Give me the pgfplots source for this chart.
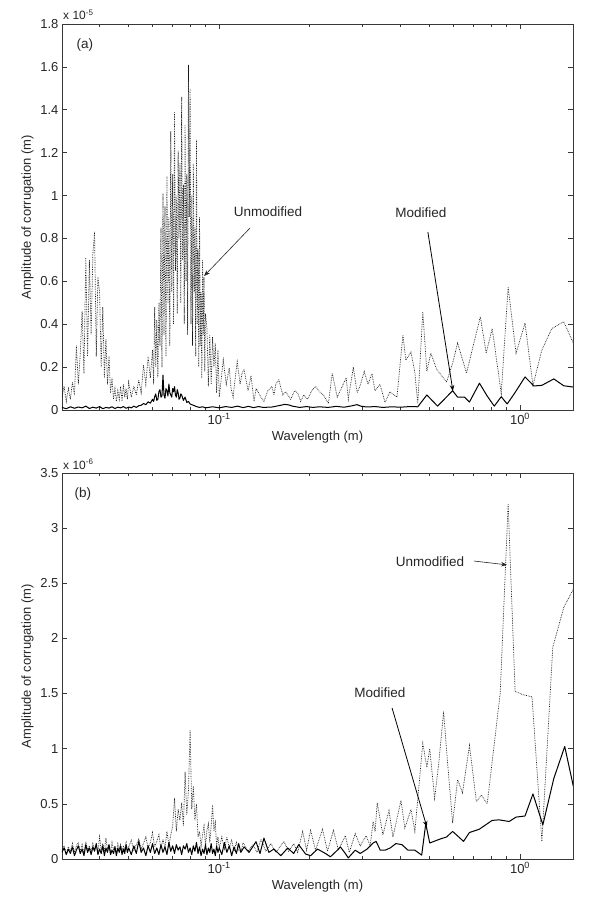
\documentclass[border=0pt]{standalone}
\usepackage{fontspec}
\setmainfont{Liberation Sans}
\usepackage{pgfplots}
\pgfplotsset{compat=1.18}
\usetikzlibrary{arrows.meta}
\definecolor{axgray}{gray}{0.22}
\pgfplotsset{
  mystyle/.style={
    scale only axis, width=511pt, height=386pt,
    xmin=0.03, xmax=1.5, ymin=0,
    xtick={0.1,1}, xticklabels={10\textsuperscript{-1},10\textsuperscript{0}},
    minor xtick={0.04,0.05,0.06,0.07,0.08,0.09,0.2,0.3,0.4,0.5,0.6,0.7,0.8,0.9},
    tick align=inside, major tick length=5pt, minor tick length=3pt,
    axis line style={axgray, line width=0.8pt},
    every tick/.style={axgray, line width=0.6pt},
    tick label style={font=\fontsize{13}{15}\selectfont, text=black!85},
    label style={font=\fontsize{13}{15}\selectfont, text=black!85},
    xlabel={Wavelength (m)}, ylabel={Amplitude of corrugation (m)},
  },
  unmod/.style={densely dotted, black!90, line width=0.7pt},
  mod/.style={black, line width=1.0pt, line join=round},
}
\newcommand{\annfont}{\fontsize{13.5}{15}\selectfont}
\begin{document}
\begin{tikzpicture}
\path[use as bounding box] (0,0) rectangle (592pt,906pt);
% ---------------- panel (a)
\begin{semilogxaxis}[mystyle, /pgf/number format/assume math mode=true, name=ta, at={(62pt,496pt)}, anchor=south west, ymax=1.8,
  ytick={0,0.2,0.4,0.6,0.8,1,1.2,1.4,1.6,1.8}]
\addplot[unmod] coordinates {
(0.0300,0.06)(0.0305,0.11)(0.0310,0.04)(0.0315,0.10)(0.0320,0.05)(0.0325,0.13)(0.0330,0.07)(0.0335,0.30)(0.0340,0.12)(0.0345,0.26)
(0.0350,0.46)(0.0355,0.17)(0.0360,0.71)(0.0365,0.25)(0.0370,0.70)(0.0375,0.35)(0.0380,0.73)(0.0385,0.83)(0.0390,0.25)(0.0395,0.62)
(0.0400,0.55)(0.0405,0.20)(0.0410,0.48)(0.0415,0.15)(0.0420,0.33)(0.0425,0.12)(0.0430,0.25)(0.0435,0.08)(0.0440,0.15)(0.0445,0.05)
(0.0450,0.10)(0.0455,0.04)(0.0460,0.09)(0.0465,0.05)(0.0470,0.11)(0.0475,0.04)(0.0480,0.12)(0.0485,0.06)(0.0490,0.10)(0.0495,0.05)
(0.0500,0.13)(0.051,0.06)(0.052,0.11)(0.053,0.07)(0.054,0.14)(0.055,0.08)(0.056,0.21)(0.057,0.12)(0.058,0.25)(0.059,0.15)
(0.0600,0.28)(0.0605,0.12)(0.0610,0.48)(0.0615,0.20)(0.0620,0.42)(0.0625,0.15)(0.0630,0.50)(0.0635,0.30)(0.0640,0.85)(0.0645,0.20)
(0.0650,1.01)(0.0655,0.35)(0.0660,0.95)(0.0665,0.25)(0.0670,1.09)(0.0675,0.50)(0.0680,0.90)(0.0685,0.30)(0.0690,1.30)(0.0695,0.55)
(0.0700,1.10)(0.0705,0.40)(0.0710,1.39)(0.0715,0.65)(0.0720,1.00)(0.0725,0.45)(0.0730,1.21)(0.0735,0.80)(0.0740,1.15)(0.0745,0.50)
(0.0750,1.46)(0.0755,0.70)(0.0760,1.05)(0.0765,0.40)(0.0770,1.33)(0.0775,0.60)(0.0780,1.10)(0.0785,0.35)(0.0790,1.61)(0.0795,0.90)
(0.0800,1.50)(0.0805,0.40)(0.0810,1.00)(0.0815,0.30)(0.0820,1.15)(0.0825,0.55)(0.0830,0.85)(0.0835,0.25)(0.0840,1.26)(0.0845,0.40)
(0.0850,0.75)(0.0855,0.20)(0.0860,0.90)(0.0865,0.30)(0.0870,0.55)(0.0875,0.15)(0.0880,0.70)(0.0885,0.35)(0.0890,0.62)(0.0895,0.18)
(0.0900,0.45)(0.091,0.38)(0.092,0.11)(0.093,0.35)(0.094,0.12)(0.095,0.34)(0.096,0.20)(0.097,0.31)(0.098,0.08)(0.099,0.28)(0.100,0.06)
(0.1031,0.233)(0.1055,0.12)(0.1079,0.195)(0.1095,0.10)(0.1112,0.06)(0.1130,0.15)(0.1147,0.225)(0.1173,0.12)(0.1190,0.17)(0.1209,0.19)
(0.1247,0.09)(0.1275,0.16)(0.1305,0.04)(0.1325,0.10)(0.1345,0.085)(0.1376,0.06)(0.1408,0.04)(0.1450,0.09)(0.1496,0.11)(0.1520,0.07)
(0.1542,0.12)(0.1578,0.14)(0.1627,0.07)(0.1664,0.085)(0.1728,0.05)(0.1780,0.09)(0.1823,0.08)(0.1865,0.04)(0.1909,0.07)(0.1967,0.05)
(0.2030,0.09)(0.2091,0.11)(0.2154,0.085)(0.2220,0.07)(0.2306,0.03)(0.2375,0.172)(0.2467,0.06)(0.2564,0.11)(0.2642,0.15)(0.2686,0.05)
(0.2790,0.20)(0.2876,0.08)(0.2950,0.12)(0.3033,0.18)(0.3124,0.12)(0.3220,0.17)(0.3294,0.09)(0.3423,0.12)(0.3557,0.035)(0.3697,0.085)
(0.3898,0.06)(0.408,0.35)(0.417,0.233)(0.434,0.27)(0.447,0.175)(0.457,0.03)(0.475,0.458)(0.490,0.18)(0.505,0.265)(0.528,0.19)
(0.570,0.13)(0.597,0.218)(0.620,0.312)(0.664,0.172)(0.738,0.435)(0.772,0.265)(0.808,0.38)(0.866,0.078)(0.913,0.574)(0.970,0.265)
(1.039,0.405)(1.104,0.115)(1.182,0.28)(1.276,0.38)(1.397,0.412)(1.540,0.28)
};
\addplot[mod] coordinates {
(0.0300,0.012)(0.0310,0.006)(0.0320,0.015)(0.0330,0.008)(0.0340,0.014)(0.0350,0.010)(0.0360,0.018)(0.0370,0.007)(0.0380,0.013)(0.0390,0.009)
(0.0400,0.016)(0.0410,0.006)(0.0420,0.012)(0.0430,0.009)(0.0440,0.015)(0.0450,0.007)(0.0460,0.013)(0.0470,0.010)(0.0480,0.016)(0.0490,0.008)
(0.0500,0.014)(0.0510,0.010)(0.0520,0.018)(0.0530,0.012)(0.0540,0.020)(0.0550,0.022)(0.0560,0.030)(0.0570,0.025)(0.0580,0.038)(0.0590,0.032)
(0.0600,0.050)(0.0605,0.040)(0.0610,0.062)(0.0615,0.075)(0.0620,0.045)(0.0625,0.050)(0.0630,0.085)(0.0635,0.095)(0.0640,0.060)(0.0645,0.065)
(0.0650,0.163)(0.0655,0.070)(0.0660,0.055)(0.0665,0.100)(0.0670,0.090)(0.0675,0.065)(0.0680,0.121)(0.0685,0.080)(0.0690,0.070)(0.0695,0.060)
(0.0700,0.100)(0.0705,0.085)(0.0710,0.109)(0.0715,0.070)(0.0720,0.060)(0.0725,0.095)(0.0730,0.080)(0.0735,0.050)(0.0740,0.055)(0.0745,0.075)
(0.0750,0.070)(0.0760,0.045)(0.0770,0.060)(0.0780,0.035)(0.0790,0.040)(0.0800,0.028)(0.0820,0.022)(0.0840,0.016)(0.0860,0.012)(0.0880,0.015)
(0.0900,0.010)(0.095,0.015)(0.100,0.010)(0.105,0.016)(0.110,0.012)(0.115,0.018)(0.120,0.011)(0.125,0.017)(0.130,0.011)(0.135,0.016)
(0.140,0.012)(0.150,0.014)(0.160,0.022)(0.165,0.026)(0.170,0.024)(0.175,0.018)(0.185,0.012)(0.195,0.016)(0.205,0.012)(0.215,0.015)
(0.230,0.012)(0.245,0.017)(0.260,0.013)(0.275,0.019)(0.287,0.025)(0.297,0.017)(0.310,0.014)(0.330,0.016)(0.350,0.012)(0.375,0.015)
(0.400,0.013)(0.430,0.016)(0.457,0.015)(0.490,0.070)(0.532,0.018)(0.597,0.090)(0.620,0.060)(0.654,0.060)(0.679,0.037)(0.733,0.125)
(0.778,0.065)(0.821,0.018)(0.866,0.062)(0.906,0.028)(0.956,0.075)(1.039,0.154)(1.112,0.112)(1.182,0.115)(1.295,0.145)(1.397,0.113)(1.540,0.105)
};
\node[font=\annfont, text=black!85] at (rel axis cs:0.045,0.946) {(a)};
\node[font=\annfont, text=black!85] at (rel axis cs:0.403,0.513) {Unmodified};
\draw[-{Stealth[length=6pt,width=4.5pt]}, line width=0.6pt, black!85] (rel axis cs:0.368,0.4715) -- (rel axis cs:0.278,0.347);
\node[font=\annfont, text=black!85] at (rel axis cs:0.7025,0.510) {Modified};
\draw[-{Stealth[length=6pt,width=4.5pt]}, line width=0.8pt, black] (rel axis cs:0.716,0.461) -- (rel axis cs:0.765,0.049);
\end{semilogxaxis}
\node[anchor=base west, inner sep=0pt, font=\fontsize{12}{14}\selectfont, text=black!85] at ([xshift=1pt,yshift=4pt]ta.north west) {x 10\textsuperscript{-5}};
% ---------------- panel (b)
\begin{semilogxaxis}[mystyle, /pgf/number format/assume math mode=true, name=ba, at={(62pt,47pt)}, anchor=south west, ymax=3.5,
  ytick={0,0.5,1,1.5,2,2.5,3,3.5}]
\addplot[unmod] coordinates {
(0.0300,0.08)(0.0305,0.12)(0.0310,0.05)(0.0315,0.11)(0.0320,0.07)(0.0325,0.14)(0.0330,0.06)(0.0335,0.12)(0.0340,0.15)(0.0345,0.07)
(0.0350,0.13)(0.0355,0.05)(0.0360,0.16)(0.0365,0.08)(0.0370,0.12)(0.0375,0.06)(0.0380,0.14)(0.0385,0.09)(0.0390,0.13)(0.0395,0.06)
(0.0400,0.20)(0.0405,0.08)(0.0410,0.14)(0.0415,0.07)(0.0420,0.19)(0.0425,0.09)(0.0430,0.13)(0.0435,0.06)(0.0440,0.15)(0.0445,0.08)
(0.0450,0.12)(0.0455,0.05)(0.0460,0.14)(0.0465,0.09)(0.0470,0.13)(0.0475,0.06)(0.0480,0.12)(0.0485,0.08)(0.0490,0.15)(0.0495,0.07)
(0.0500,0.11)(0.051,0.17)(0.052,0.08)(0.053,0.13)(0.054,0.18)(0.055,0.09)(0.056,0.14)(0.057,0.20)(0.058,0.10)(0.059,0.15)
(0.060,0.24)(0.061,0.11)(0.062,0.16)(0.063,0.22)(0.064,0.09)(0.065,0.18)(0.066,0.10)(0.067,0.25)(0.068,0.12)(0.069,0.22)
(0.070,0.30)(0.071,0.55)(0.072,0.25)(0.073,0.45)(0.074,0.35)(0.075,0.51)(0.076,0.30)(0.077,0.79)(0.078,0.40)(0.079,0.62)
(0.080,1.17)(0.081,0.45)(0.082,0.66)(0.083,0.35)(0.084,0.50)(0.085,0.20)(0.086,0.25)(0.087,0.12)(0.088,0.22)(0.089,0.30)
(0.090,0.12)(0.091,0.26)(0.092,0.32)(0.093,0.15)(0.094,0.30)(0.095,0.49)(0.096,0.25)(0.097,0.33)(0.098,0.12)(0.099,0.20)
(0.100,0.10)(0.102,0.20)(0.104,0.09)(0.106,0.20)(0.108,0.10)(0.110,0.17)(0.112,0.07)(0.114,0.15)(0.116,0.08)(0.118,0.06)
(0.1200,0.15)(0.1246,0.07)(0.1295,0.13)(0.1335,0.06)(0.1376,0.18)(0.1429,0.07)(0.1484,0.14)(0.1542,0.06)(0.1639,0.16)(0.1702,0.07)
(0.1768,0.14)(0.1823,0.06)(0.1894,0.25)(0.1952,0.08)(0.2012,0.26)(0.2090,0.08)(0.2204,0.27)(0.2290,0.07)(0.2396,0.26)(0.2489,0.08)
(0.2625,0.21)(0.2706,0.06)(0.2832,0.23)(0.2942,0.12)(0.3079,0.21)(0.3175,0.12)(0.3248,0.34)(0.3298,0.25)(0.335,0.51)(0.350,0.22)
(0.3667,0.44)(0.3780,0.20)(0.4018,0.53)(0.414,0.28)(0.434,0.45)(0.447,0.25)(0.475,1.05)(0.490,0.83)(0.501,1.00)(0.520,0.55)
(0.536,0.85)(0.557,1.335)(0.574,0.88)(0.597,0.326)(0.620,0.72)(0.644,0.60)(0.679,1.03)(0.716,0.52)(0.744,0.58)(0.778,0.50)
(0.859,1.50)(0.913,3.22)(0.963,1.52)(1.023,1.49)(1.096,1.47)(1.182,0.16)(1.285,1.92)(1.397,2.28)(1.540,2.50)
};
\addplot[mod] coordinates {
(0.0300,0.06)(0.0305,0.10)(0.0310,0.04)(0.0315,0.09)(0.0320,0.05)(0.0325,0.11)(0.0330,0.03)(0.0335,0.08)(0.0340,0.12)(0.0345,0.05)
(0.0350,0.09)(0.0355,0.03)(0.0360,0.13)(0.0365,0.06)(0.0370,0.10)(0.0375,0.04)(0.0380,0.11)(0.0385,0.07)(0.0390,0.14)(0.0395,0.04)
(0.0400,0.09)(0.0405,0.05)(0.0410,0.12)(0.0415,0.03)(0.0420,0.10)(0.0425,0.06)(0.0430,0.13)(0.0435,0.04)(0.0440,0.08)(0.0445,0.05)
(0.0450,0.11)(0.0455,0.03)(0.0460,0.10)(0.0465,0.06)(0.0470,0.12)(0.0475,0.04)(0.0480,0.09)(0.0485,0.05)(0.0490,0.13)(0.0495,0.06)
(0.0500,0.10)(0.051,0.04)(0.052,0.12)(0.053,0.05)(0.054,0.16)(0.055,0.06)(0.056,0.10)(0.057,0.03)(0.058,0.12)(0.059,0.06)
(0.060,0.14)(0.061,0.05)(0.062,0.10)(0.063,0.04)(0.064,0.13)(0.065,0.06)(0.066,0.11)(0.067,0.04)(0.068,0.15)(0.069,0.07)
(0.070,0.12)(0.071,0.05)(0.072,0.13)(0.073,0.08)(0.074,0.11)(0.075,0.04)(0.076,0.12)(0.077,0.09)(0.078,0.14)(0.079,0.06)
(0.080,0.10)(0.081,0.04)(0.082,0.12)(0.083,0.07)(0.084,0.15)(0.085,0.05)(0.086,0.11)(0.087,0.03)(0.088,0.09)(0.089,0.05)
(0.090,0.13)(0.091,0.04)(0.092,0.10)(0.093,0.06)(0.094,0.14)(0.095,0.05)(0.096,0.09)(0.097,0.03)(0.098,0.12)(0.099,0.06)
(0.100,0.10)(0.102,0.04)(0.104,0.15)(0.106,0.06)(0.108,0.12)(0.110,0.03)(0.112,0.11)(0.114,0.05)(0.116,0.14)(0.118,0.06)
(0.1209,0.11)(0.1256,0.06)(0.1325,0.157)(0.1366,0.05)(0.1408,0.19)(0.1462,0.06)(0.1519,0.09)(0.1602,0.03)(0.1689,0.10)(0.1768,0.05)
(0.1837,0.13)(0.1937,0.045)(0.2012,0.03)(0.2122,0.09)(0.2255,0.05)(0.2342,0.02)(0.2470,0.08)(0.2527,0.11)(0.2625,0.05)(0.2685,0.01)
(0.2832,0.08)(0.2942,0.05)(0.3102,0.09)(0.3248,0.145)(0.3323,0.16)(0.343,0.08)(0.356,0.08)(0.370,0.10)(0.3867,0.14)(0.405,0.13)
(0.424,0.08)(0.447,0.08)(0.471,0.035)(0.4859,0.32)(0.501,0.145)(0.541,0.18)(0.570,0.20)(0.597,0.25)(0.649,0.16)(0.679,0.24)
(0.732,0.27)(0.808,0.35)(0.852,0.355)(0.920,0.34)(0.970,0.38)(1.039,0.39)(1.104,0.59)(1.191,0.31)(1.295,0.73)(1.408,1.02)(1.540,0.53)
};
\node[font=\annfont, text=black!85] at (rel axis cs:0.041,0.946) {(b)};
\node[font=\annfont, text=black!85] at (rel axis cs:0.720,0.7694) {Unmodified};
\draw[-{Stealth[length=6pt,width=4.5pt]}, line width=0.6pt, black!85] (rel axis cs:0.806,0.772) -- (rel axis cs:0.871,0.762);
\node[font=\annfont, text=black!85] at (rel axis cs:0.622,0.430) {Modified};
\draw[-{Stealth[length=6pt,width=4.5pt]}, line width=0.8pt, black] (rel axis cs:0.646,0.391) -- (rel axis cs:0.714,0.083);
\end{semilogxaxis}
\node[anchor=base west, inner sep=0pt, font=\fontsize{12}{14}\selectfont, text=black!85] at ([xshift=1pt,yshift=4pt]ba.north west) {x 10\textsuperscript{-6}};
\end{tikzpicture}
\end{document}
